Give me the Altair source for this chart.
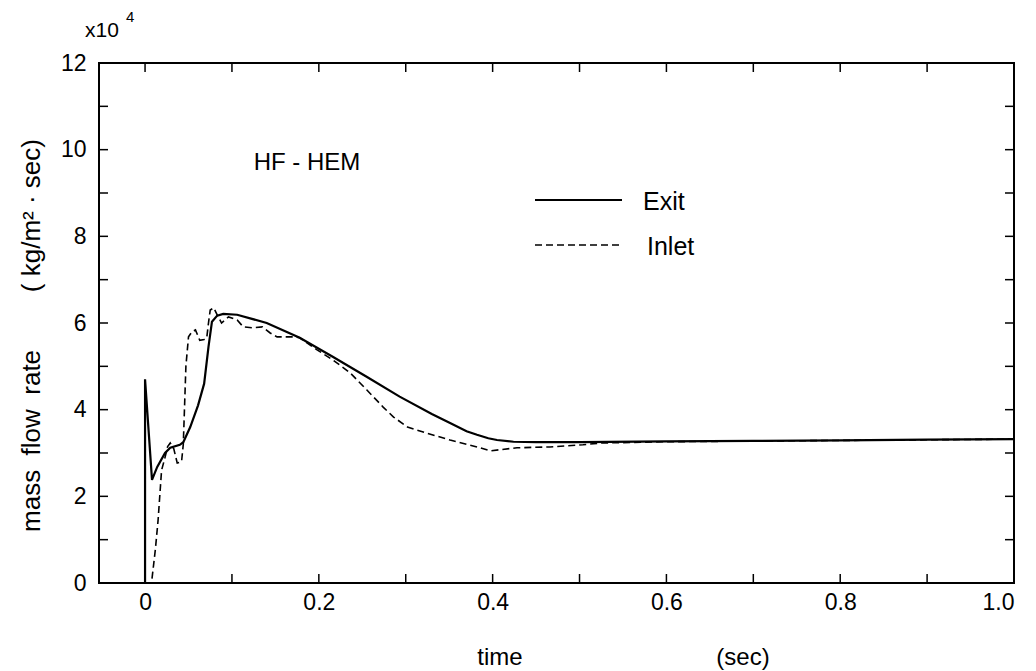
import altair as alt
import pandas as pd

# ---- data (time in s, mass flow rate in 1e4 kg/m2 s) ----
exit_t = [0.0, 0.0, 0.008, 0.014, 0.023, 0.029, 0.040, 0.044, 0.052, 0.061, 0.068,
          0.073, 0.077, 0.083, 0.090, 0.106, 0.140, 0.178, 0.216, 0.255, 0.293,
          0.330, 0.351, 0.370, 0.382, 0.395, 0.405, 0.424, 0.450, 0.500, 0.600,
          0.700, 0.800, 0.900, 1.000]
exit_v = [0.0, 4.70, 2.38, 2.68, 3.00, 3.12, 3.19, 3.25, 3.60, 4.10, 4.60,
          5.45, 6.03, 6.17, 6.21, 6.19, 6.00, 5.66, 5.22, 4.76, 4.30,
          3.90, 3.69, 3.50, 3.42, 3.34, 3.30, 3.26, 3.25, 3.25, 3.27,
          3.28, 3.29, 3.31, 3.32]

inlet_t = [0.008, 0.012, 0.015, 0.019, 0.023, 0.026, 0.029, 0.033, 0.037, 0.042,
           0.044, 0.047, 0.050, 0.054, 0.058, 0.063, 0.068, 0.071, 0.073, 0.075,
           0.079, 0.083, 0.088, 0.096, 0.106, 0.113, 0.123, 0.135, 0.144, 0.152,
           0.171, 0.178, 0.198, 0.216, 0.236, 0.255, 0.274, 0.286, 0.302, 0.324,
           0.351, 0.382, 0.397, 0.428, 0.466, 0.504, 0.524, 0.600, 0.800, 1.000]
inlet_v = [0.10, 0.80, 1.45, 2.60, 2.90, 3.15, 3.23, 3.10, 2.77, 2.80,
           3.20, 5.00, 5.68, 5.80, 5.84, 5.60, 5.62, 5.66, 6.00, 6.30,
           6.35, 6.19, 6.00, 6.14, 6.07, 5.91, 5.89, 5.91, 5.77, 5.68,
           5.68, 5.66, 5.38, 5.15, 4.85, 4.46, 4.06, 3.83, 3.60, 3.46,
           3.30, 3.14, 3.05, 3.12, 3.14, 3.19, 3.23, 3.26, 3.29, 3.32]

x_label_values = [0, 0.2, 0.4, 0.6, 0.8, 1.0]
y_label_values = [0, 2, 4, 6, 8, 10, 12]
x_tick_values = [0.0, 0.1, 0.2, 0.3, 0.4, 0.5, 0.6, 0.7, 0.8, 0.9, 1.0]
y_tick_values = [0, 1, 2, 3, 4, 5, 6, 7, 8, 9, 10, 11, 12]

X_DOMAIN = [-0.053, 1.0]
Y_DOMAIN = [0, 12]

FONT = "Liberation Sans Narrow, Liberation Sans, sans-serif"
W, H = 915, 520
NB = "\u00a0"
Y_TITLE = ("mass" + NB * 2 + "flow" + NB * 2 + "rate" + NB * 8 + "(" + NB
           + "kg/m² · sec)")

df_exit = pd.DataFrame({"t": exit_t, "v": exit_v, "i": range(len(exit_t))})
df_inlet = pd.DataFrame({"t": inlet_t, "v": inlet_v, "i": range(len(inlet_t))})
df_xt = pd.DataFrame({"t": x_tick_values})
df_yt = pd.DataFrame({"v": y_tick_values})

xs = alt.Scale(domain=X_DOMAIN, nice=False, zero=False)
ys = alt.Scale(domain=Y_DOMAIN, nice=False, zero=False)

x_axis = alt.Axis(values=x_label_values, tickSize=0, domain=False, grid=False,
                  labelExpr="datum.value == 0 ? '0' : format(datum.value, '.1f')",
                  labelFont=FONT, labelFontSize=23, labelColor="black",
                  labelPadding=8, title=None)
y_axis = alt.Axis(values=y_label_values, tickSize=0, domain=False, grid=False,
                  labelFont=FONT, labelFontSize=23, labelColor="black",
                  labelPadding=13,
                  title=Y_TITLE,
                  titleFont=FONT, titleFontSize=26, titleFontWeight="normal",
                  titleColor="black", titleAngle=270, titleX=-68, titleY=272,
                  titleAlign="center", titleBaseline="middle")

X = alt.X("t:Q", scale=xs, axis=x_axis)
Y = alt.Y("v:Q", scale=ys, axis=y_axis)

exit_line = alt.Chart(df_exit).mark_line(color="black", strokeWidth=2.2, clip=True).encode(
    x=X, y=Y, order=alt.Order("i:Q"),
)
inlet_line = alt.Chart(df_inlet).mark_line(color="black", strokeWidth=1.6,
                                           strokeDash=[7, 4], clip=True).encode(
    x=X, y=Y, order=alt.Order("i:Q"),
)

tick_style = dict(color="black", strokeWidth=1.5)
xt_bottom = alt.Chart(df_xt).mark_rule(**tick_style).encode(
    x=X, y=alt.value(H), y2=alt.value(H - 9))
xt_top = alt.Chart(df_xt).mark_rule(**tick_style).encode(
    x=X, y=alt.value(0), y2=alt.value(9))
yt_left = alt.Chart(df_yt).mark_rule(**tick_style).encode(
    y=Y, x=alt.value(0), x2=alt.value(9))
yt_right = alt.Chart(df_yt).mark_rule(**tick_style).encode(
    y=Y, x=alt.value(W), x2=alt.value(W - 9))

anchor = pd.DataFrame({"a": [0]})


def label(text, x, y, size, align="left"):
    return alt.Chart(anchor).mark_text(text=text, font=FONT, fontSize=size,
                                       color="black", align=align,
                                       baseline="alphabetic").encode(
        x=alt.value(x), y=alt.value(y))


texts = [
    label("x10", -14, -26, 21),
    label("4", 27, -41, 15),
    label("HF - HEM", 208, 107, 24, "center"),
    label("Exit", 544, 147, 25),
    label("Inlet", 548, 192, 25),
    label("time", 401, 602, 24, "center"),
    label("(sec)", 644, 602, 24, "center"),
]

leg_solid = alt.Chart(anchor).mark_rule(color="black", strokeWidth=2).encode(
    x=alt.value(436), x2=alt.value(523), y=alt.value(137))
leg_dash = alt.Chart(anchor).mark_rule(color="black", strokeWidth=1.6,
                                       strokeDash=[7, 4]).encode(
    x=alt.value(436), x2=alt.value(523), y=alt.value(182))

chart = alt.layer(
    exit_line, inlet_line, xt_bottom, xt_top, yt_left, yt_right,
    leg_solid, leg_dash, *texts
).properties(
    width=W, height=H,
    padding={"left": 99, "top": 63, "right": 22, "bottom": 88},
    autosize=alt.AutoSizeParams(type="none"),
    background="white",
).configure_view(
    stroke="black", strokeWidth=2
)

chart.save("out.html", embed_options={"renderer": "svg", "actions": False})
